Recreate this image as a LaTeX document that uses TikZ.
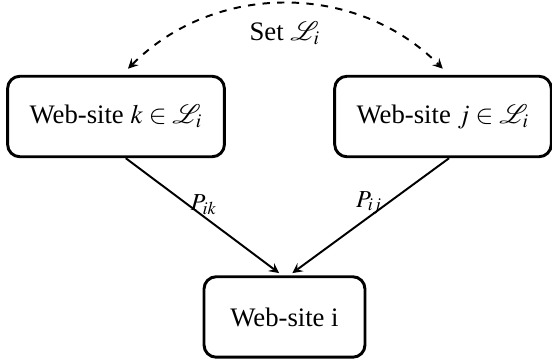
\documentclass[11pt,tikz,border=0pt]{standalone}
\usepackage{mathptmx}
\usepackage{mathrsfs}
\usepackage{fontspec}
\setmainfont{Liberation Serif}
\begin{document}
\begin{tikzpicture}
			\tikzstyle{site}=[rectangle,rounded corners=5pt,draw=black,very thick,minimum height=33pt,inner xsep=9pt]
			\tikzstyle{link}=[thick,>=stealth]
			\tikzstyle{prob}=[above,inner sep=0.5pt,font=\small]
			\useasboundingbox (0,0) rectangle (7.955,-5.231);
			\begin{scope}
			\node[site] (k) at (1.672,-1.679) {Web-site $k\in\mathscr{L}_i$};
			\node[site] (j) at (6.384,-1.679) {Web-site $j\in\mathscr{L}_i$};
			\node[site,minimum width=66pt] (i) at (4.100,-4.568) {Web-site i};
			\node (set) at (4.107,-0.476) {Set $\mathscr{L}_i$};
			\end{scope}
			
			\path[link,<->,dashed]
			([shift={(4.9pt,2.5pt)}]k.north) edge[bend left=45] ([shift={(-0.1pt,2.5pt)}]j.north)
			;
			\path[link,->,shorten >=1.5pt]
			([xshift=4pt]k.south) edge node[prob]{$P_{ik}$} ([xshift=-1pt]i.north)
			([xshift=2.5pt]j.south) edge node[prob]{$P_{ij}$} ([xshift=2pt]i.north)
			;
		\end{tikzpicture}
\end{document}
